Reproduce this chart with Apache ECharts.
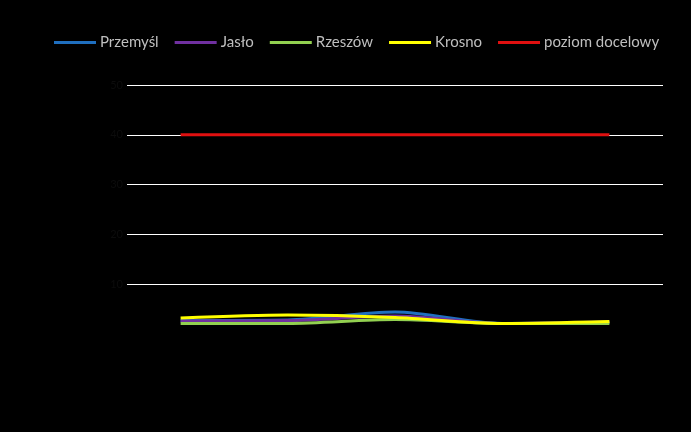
<!DOCTYPE html>
<html><head><meta charset="utf-8">
<script src="https://cdn.jsdelivr.net/npm/echarts@6/dist/echarts.min.js"></script>
<style>html,body{margin:0;padding:0;background:#000;}#c{width:691px;height:432px;}</style>
</head><body><div id="c"></div>
<script>
const categories = ['2010', '2011', '2012', '2013', '2014'];
const przemysl = [2.7, 2.8, 4.4, 2.1, 2.3];
const jaslo = [2.6, 2.7, 3.6, 2.1, 2.4];
const rzeszow = [2.1, 2.1, 2.9, 2.1, 2.1];
const krosno = [3.2, 3.8, 3.3, 2.1, 2.5];
const docelowy = [40, 40, 40, 40, 40];
const yTicks = { min: 0, max: 50, interval: 10 };

const names = ['Przemyśl', 'Jasło', 'Rzeszów', 'Krosno', 'poziom docelowy'];
const colors = ['#1f6fbf', '#7030a0', '#92d050', '#ffff00', '#e01010'];
const datasets = [przemysl, jaslo, rzeszow, krosno, docelowy];

const chart = echarts.init(document.getElementById('c'));
chart.setOption({
  backgroundColor: '#000',
  animation: false,
  color: colors,
  legend: {
    top: 30, left: 49,
    itemWidth: 42, itemHeight: 3, itemGap: 16,
    icon: 'rect',
    textStyle: { color: '#bfbfbf', fontSize: 15, fontFamily: 'Lato', padding: [0, 0, 0, -1] },
    data: names
  },
  grid: { left: 127, right: 28, top: 85, bottom: 98 },
  xAxis: {
    type: 'category', data: categories, boundaryGap: true,
    axisLine: { show: false }, axisTick: { show: false },
    axisLabel: { show: false }
  },
  yAxis: {
    type: 'value', min: yTicks.min, max: yTicks.max, interval: yTicks.interval,
    axisLine: { show: false }, axisTick: { show: false },
    axisLabel: { color: '#0c0c0c', fontSize: 11, margin: 4, fontFamily: 'Lato',
      formatter: v => v === 0 ? '' : v },
    splitLine: { lineStyle: { color: ['#000000', '#ffffff', '#ffffff', '#ffffff', '#ffffff', '#ffffff'], width: 1 } }
  },
  series: datasets.map((d, i) => ({
    name: names[i], type: 'line', data: d, smooth: 0.3,
    symbol: 'none', lineStyle: { width: 3, color: colors[i] }
  }))
});
</script></body></html>
